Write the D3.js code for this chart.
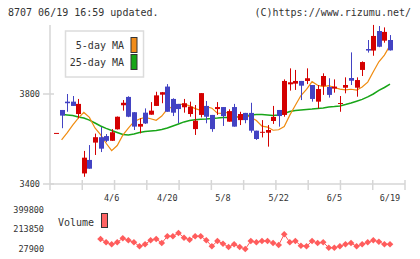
<!DOCTYPE html>
<html>
<head>
<meta charset="utf-8">
<script src="https://cdn.jsdelivr.net/npm/d3@7"></script>
<style>
  body { margin: 0; background: #fff; }
  svg { display: block; }
  text { font-family: "DejaVu Sans Mono", monospace; fill: #333; }
</style>
</head>
<body>
<div id="chart"></div>
<script>
// daily candles, 3/23 .. 6/19 (one per trading day)
const opens = [3627,3729,3766,3766,3711,3447,3507,3584,3608,3613,3592,3643,3750,3787,3719,3655,3717,3708,3747,3797,
  3833,3778,3756,3741,3711,3644,3707,3747,3707,3733,3742,3677,3742,3684,3716,3716,3637,3628,3628,3680,
  3729,3707,3843,3846,3858,3858,3840,3766,3836,3831,3824,3757,3828,3871,3828,3907,4000,3993,4080,4037,4040];
const highs = [3627,3729,3800,3791,3778,3547,3573,3624,3653,3622,3644,3700,3773,3790,3720,3692,3736,3764,3810,3809,
  3844,3781,3756,3778,3766,3751,3804,3769,3707,3764,3742,3732,3756,3721,3716,3761,3637,3684,3662,3747,
  3729,3865,3914,3907,3858,3914,3840,3840,3892,3870,3865,3791,3874,3985,3874,3945,4040,4107,4102,4096,4062];
const lows = [3627,3648,3721,3747,3692,3432,3468,3529,3542,3586,3591,3642,3726,3697,3640,3625,3667,3708,3747,3759,
  3721,3702,3670,3717,3699,3618,3696,3670,3632,3707,3658,3677,3655,3662,3670,3628,3596,3607,3566,3667,
  3655,3699,3815,3818,3773,3844,3766,3736,3796,3784,3806,3721,3803,3840,3788,3880,3984,3970,4008,4028,3993];
const closes = [3627,3704,3759,3747,3756,3517,3468,3608,3557,3592,3630,3699,3761,3699,3655,3667,3669,3726,3794,3808,
  3721,3717,3733,3759,3744,3681,3804,3699,3644,3742,3702,3724,3655,3711,3684,3637,3600,3632,3640,3698,
  3702,3858,3852,3858,3837,3870,3778,3822,3880,3796,3833,3760,3840,3859,3862,3942,3993,4058,4010,4076,3994];

const ma5 = [null,3596,3627,3662,3693,3718,3696,3649,3619,3581,3548,3571,3617,3648,3677,3689,3696,3690,3683,3702,
  3733,3744,3753,3755,3748,3735,3727,3744,3737,3715,3714,3719,3703,3694,3707,3696,3682,3657,3653,3639,
  3641,3655,3706,3750,3793,3821,3855,3839,3833,3837,3829,3822,3818,3821,3817,3831,3853,3899,3943,3973,4016];
const ma25 = [null,3710,3707,3704,3698,3693,3684,3671,3658,3647,3638,3629,3620,3618,3622,3629,3633,3636,3638,3642,
  3649,3658,3667,3676,3682,3686,3688,3689,3691,3693,3696,3696,3698,3699,3702,3707,3709,3709,3707,3705,
  3707,3713,3722,3727,3729,3731,3733,3736,3738,3742,3744,3747,3753,3760,3768,3776,3787,3800,3816,3829,3844];

const volumes = [null,null,null,null,null,null,null,null,123300,91800,72700,91800,129900,110900,91800,53600,72700,110900,123300,85100,
  149000,149000,180500,135700,116600,149000,149000,110900,53600,104200,78400,47000,72700,47000,27900,104200,91800,104200,104200,85100,
  66000,168100,91800,104200,59400,53600,104200,85100,91800,40300,40300,53600,72700,85100,53600,72700,91800,110900,97500,72700,72700];

const dateLabels = ['4/6', '4/20', '5/8', '5/22', '6/5', '6/19'];
const dateIndex = [10, 20, 30, 40, 50, 60];
const priceTicks = [3400, 3800];
const volumeTicks = [399800, 213850, 27900];

const W = 420, H = 259;
const plotLeft = 50, plotRight = 405, plotTop = 25, plotBottom = 184;
const gridColor = '#d6d6d6';
const upColor = '#d40000', downColor = '#4343c3';

const svg = d3.select('#chart').append('svg')
  .attr('width', W)
  .attr('height', H);

const x = d3.scaleLinear().domain([0, closes.length - 1]).range([56, 390]);
const y = d3.scaleLinear().domain([3400, 3800]).range([plotBottom, 94]);
const yv = d3.scaleLinear().domain([27900, 399800]).range([249, 210]);

// header
svg.append('text').attr('x', 8).attr('y', 16).style('font-size', '10px')
  .text('8707 06/19 16:59 updated.');
svg.append('text').attr('x', 411).attr('y', 16).attr('text-anchor', 'end').style('font-size', '10px')
  .text('(C)https://www.rizumu.net/');

// frame
const frame = svg.append('g').attr('stroke', gridColor).attr('stroke-width', 1.5);
frame.append('line').attr('x1', plotLeft).attr('x2', plotLeft).attr('y1', plotTop).attr('y2', plotBottom + 6);
frame.append('line').attr('x1', plotLeft).attr('x2', plotRight).attr('y1', plotBottom).attr('y2', plotBottom);

const xTicks = d3.scaleLinear().domain([0, 11]).range([plotLeft, plotRight]);
frame.selectAll('.xt').data(d3.range(1, 12)).enter().append('line')
  .attr('x1', d => xTicks(d)).attr('x2', d => xTicks(d))
  .attr('y1', plotBottom - 4).attr('y2', plotBottom + 6);

frame.selectAll('.yt').data(priceTicks).enter().append('line')
  .attr('x1', plotLeft - 7).attr('x2', plotLeft + 4)
  .attr('y1', d => y(d)).attr('y2', d => y(d));

svg.selectAll('.ylab').data(priceTicks).enter().append('text')
  .attr('x', 40).attr('y', d => y(d)).attr('dy', '0.35em')
  .attr('text-anchor', 'end').style('font-size', '8.5px')
  .text(d => d);

svg.selectAll('.xlab').data(dateIndex).enter().append('text')
  .attr('x', d => x(d)).attr('y', 201)
  .attr('text-anchor', 'middle').style('font-size', '8.5px')
  .text((d, i) => dateLabels[i]);

// moving averages
const maLine = d3.line()
  .defined(d => d != null)
  .x((d, i) => x(i))
  .y(d => y(d));

svg.append('path').datum(ma25)
  .attr('d', maLine).attr('fill', 'none')
  .attr('stroke', '#18a518').attr('stroke-width', 1.5);

svg.append('path').datum(ma5)
  .attr('d', maLine).attr('fill', 'none')
  .attr('stroke', '#f08c10').attr('stroke-width', 1.2);

// candles
const candles = svg.append('g');
const idx = d3.range(closes.length);
const colorOf = i => closes[i] >= opens[i] ? upColor : downColor;

candles.selectAll('.wick').data(idx).enter().append('line')
  .attr('x1', i => Math.round(x(i)) + 0.5).attr('x2', i => Math.round(x(i)) + 0.5)
  .attr('y1', i => y(highs[i])).attr('y2', i => y(lows[i]))
  .attr('stroke', colorOf).attr('stroke-width', 1);

candles.selectAll('.body').data(idx).enter().append('rect')
  .attr('x', i => Math.round(x(i)) - 2)
  .attr('y', i => y(Math.max(opens[i], closes[i])))
  .attr('width', 5)
  .attr('height', i => Math.max(1, y(Math.min(opens[i], closes[i])) - y(Math.max(opens[i], closes[i]))))
  .attr('fill', colorOf);

// legend
const legend = svg.append('g');
legend.append('rect').attr('x', 65.5).attr('y', 31).attr('width', 78).attr('height', 46)
  .attr('fill', '#fff').attr('stroke', '#dcdcdc').attr('stroke-width', 1.5);
const legendItems = [['5-day MA', '#f08c1a'], ['25-day MA', '#16a516']];
legendItems.forEach((d, k) => {
  legend.append('text').attr('x', 124).attr('y', 49 + k * 17)
    .attr('text-anchor', 'end').style('font-size', '10px').text(d[0]);
  legend.append('rect').attr('x', 131).attr('y', 37.5 + k * 17).attr('width', 6).attr('height', 15)
    .attr('fill', d[1]).attr('stroke', '#333').attr('stroke-width', 1);
});

// volume panel
svg.selectAll('.vlab').data(volumeTicks).enter().append('text')
  .attr('x', 44).attr('y', d => yv(d)).attr('dy', '0.35em')
  .attr('text-anchor', 'end').style('font-size', '8.5px')
  .text(d => d);

svg.append('text').attr('x', 58).attr('y', 225.5).style('font-size', '10px').text('Volume');
svg.append('rect').attr('x', 101.5).attr('y', 213.5).attr('width', 6).attr('height', 14)
  .attr('fill', '#ff6464').attr('stroke', '#333').attr('stroke-width', 1);

const volColor = '#ff5c5c';
svg.append('path').datum(volumes)
  .attr('d', d3.line().defined(d => d != null).x((d, i) => x(i)).y(d => yv(d)))
  .attr('fill', 'none').attr('stroke', volColor).attr('stroke-width', 1);

svg.selectAll('.vdot').data(idx.filter(i => volumes[i] != null)).enter().append('path')
  .attr('d', d3.symbol(d3.symbolSquare, 22))
  .attr('transform', i => `translate(${x(i)},${yv(volumes[i])}) rotate(45)`)
  .attr('fill', volColor);
</script>
</body>
</html>
